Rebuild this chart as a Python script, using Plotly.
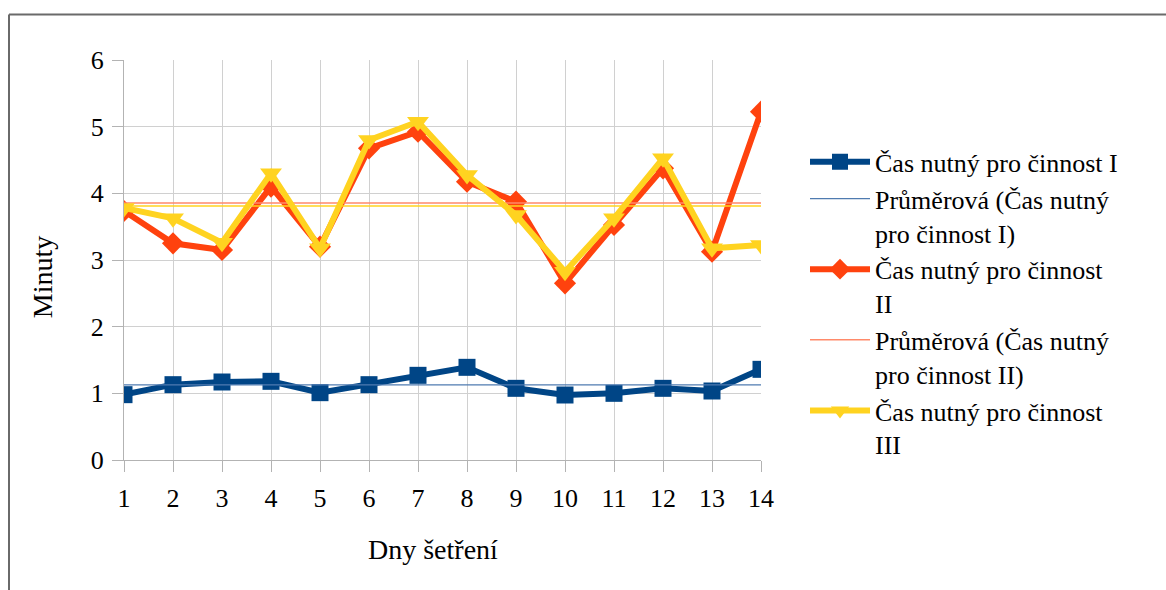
import plotly.graph_objects as go

# Survey days and measured times (minutes) for each activity
days = list(range(1, 15))
cas_i = [0.98, 1.13, 1.17, 1.18, 1.01, 1.13, 1.27, 1.39, 1.075, 0.975, 1.0, 1.075, 1.035, 1.36]
cas_ii = [3.735, 3.25, 3.15, 4.1, 3.2, 4.675, 4.925, 4.175, 3.875, 2.65, 3.525, 4.375, 3.125, 5.225]
cas_iii = [3.78, 3.625, 3.26, 4.3, 3.175, 4.8, 5.075, 4.275, 3.675, 2.825, 3.625, 4.525, 3.175, 3.225]

y_ticks = [0, 1, 2, 3, 4, 5, 6]

BLUE = "#004586"
RED = "#ff420e"
YELLOW = "#ffd320"
FONT = "'Liberation Serif', 'Times New Roman', serif"


def mean(vals):
    return sum(vals) / len(vals)


fig = go.Figure()

fig.add_trace(go.Scatter(
    x=days, y=cas_i, mode="lines+markers",
    name="Čas nutný pro činnost I",
    line=dict(color=BLUE, width=6),
    marker=dict(symbol="square", size=17, color=BLUE),
))
fig.add_trace(go.Scatter(
    x=[days[0], days[-1]], y=[mean(cas_i)] * 2, mode="lines",
    name="Průměrová (Čas nutný<br>pro činnost I)",
    line=dict(color="#4f7bb0", width=1.3),
))
fig.add_trace(go.Scatter(
    x=days, y=cas_ii, mode="lines+markers",
    name="Čas nutný pro činnost<br>II",
    line=dict(color=RED, width=6),
    marker=dict(symbol="diamond", size=17, color=RED),
))
fig.add_trace(go.Scatter(
    x=[days[0], days[-1]], y=[mean(cas_ii)] * 2, mode="lines",
    name="Průměrová (Čas nutný<br>pro činnost II)",
    line=dict(color="#ff8a6a", width=1.5),
))
fig.add_trace(go.Scatter(
    x=days, y=cas_iii, mode="lines+markers",
    name="Čas nutný pro činnost<br>III",
    line=dict(color=YELLOW, width=6),
    marker=dict(symbol="triangle-down", size=19, color=YELLOW),
))
fig.add_trace(go.Scatter(
    x=[days[0], days[-1]], y=[mean(cas_iii)] * 2, mode="lines",
    showlegend=False,
    line=dict(color=YELLOW, width=1.3),
))

axis_common = dict(
    showgrid=True, gridcolor="#d0d0d0", gridwidth=1.3,
    showline=True, linecolor="#b3b3b3", linewidth=1.3,
    ticks="outside", ticklen=11, tickcolor="#b3b3b3", tickwidth=1.3,
    zeroline=False,
    tickfont=dict(family=FONT, size=26, color="#000000"),
)

fig.update_layout(
    width=1166, height=590,
    margin=dict(l=124, r=405, t=59.5, b=130),
    paper_bgcolor="white", plot_bgcolor="white",
    font=dict(family=FONT, size=26, color="#000000"),
    xaxis=dict(range=[1, 14], tickvals=days, ticklabelstandoff=4, **axis_common),
    yaxis=dict(range=[0, 6], tickvals=y_ticks, ticklabelstandoff=3, **axis_common),
    legend=dict(
        x=(805 - 124) / 637, xanchor="left",
        y=(460 - 138) / 400.5, yanchor="top",
        valign="top", itemwidth=60,
        font=dict(family=FONT, size=26, color="#000000"),
        bgcolor="rgba(0,0,0,0)",
    ),
    annotations=[
        dict(text="Minuty", xref="paper", yref="paper",
             x=(42 - 124) / 637, y=(460 - 277) / 400.5,
             xanchor="center", yanchor="middle", textangle=-90,
             showarrow=False, font=dict(family=FONT, size=28)),
        dict(text="Dny šetření", xref="paper", yref="paper",
             x=(433 - 124) / 637, y=(460 - 550) / 400.5,
             xanchor="center", yanchor="middle",
             showarrow=False, font=dict(family=FONT, size=28)),
    ],
    shapes=[
        # outer chart frame (top and left edges visible)
        dict(type="line", xref="paper", yref="paper",
             x0=(9 - 124) / 637, x1=(1170 - 124) / 637,
             y0=(460 - 14) / 400.5, y1=(460 - 14) / 400.5,
             line=dict(color="#6a6a6a", width=2)),
        dict(type="line", xref="paper", yref="paper",
             x0=(9 - 124) / 637, x1=(9 - 124) / 637,
             y0=(460 - 14) / 400.5, y1=(460 - 600) / 400.5,
             line=dict(color="#6a6a6a", width=2)),
    ],
)

fig.write_html("out.html")
